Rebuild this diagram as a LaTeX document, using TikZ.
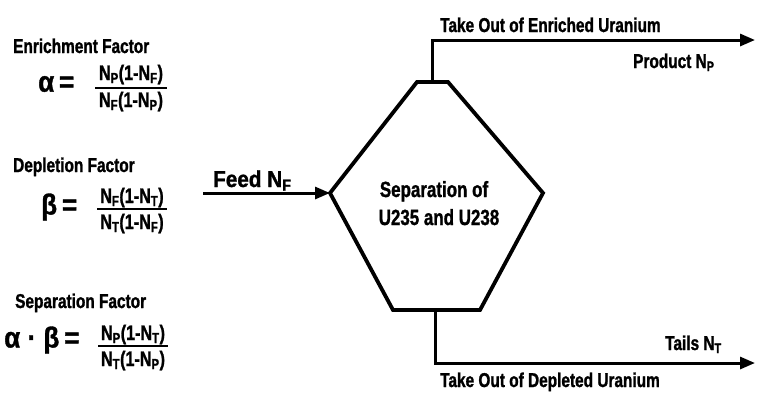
\documentclass[tikz,border=0pt]{standalone}
\usepackage{fontspec}
\setmainfont{Liberation Sans}
\newfontfamily\condA{Liberation Sans}[FakeStretch=0.77, BoldFeatures={FakeBold=1.2}]
\newfontfamily\condB{Liberation Sans}[FakeStretch=0.9, BoldFeatures={FakeBold=1.2}]
\usetikzlibrary{arrows.meta}
\tikzset{
  lbl/.style={font=\condA\bfseries\fontsize{20}{24}\selectfont, inner sep=0pt, anchor=base west},
  big/.style={font=\condA\bfseries\fontsize{22}{26}\selectfont, inner sep=0pt, anchor=base},
  feedlbl/.style={font=\condB\bfseries\fontsize{23}{27}\selectfont, inner sep=0pt, anchor=base west},
  greek/.style={font=\condB\bfseries\fontsize{29}{33}\selectfont, inner sep=0pt, anchor=west},
  frac/.style={font=\condA\bfseries\fontsize{21}{24}\selectfont, inner sep=0pt, anchor=base},
  fbar/.style={line width=2.4pt},
  hexline/.style={line width=3.8pt, line join=miter},
  flow/.style={line width=3pt, -{Triangle[length=15pt,width=12pt]}},
}
\newcommand{\sbs}[1]{\textsubscript{#1}}
\begin{document}
\begin{tikzpicture}[x=1pt,y=-1pt]
\useasboundingbox (0,0) rectangle (757,392);
\fill[white] (0,0) rectangle (757,392);
% hexagon
\coordinate (h1) at (417,82);
\coordinate (h2) at (448,82);
\coordinate (h3) at (543,193);
\coordinate (h4) at (480,310);
\coordinate (h5) at (393,310);
\coordinate (h6) at (330,193);
\draw[hexline] (h1) -- (h2) -- (h3) -- (h4) -- (h5) -- (h6) -- cycle;
\node[big] (sep1) at (434,197) {Separation of};
\node[big] (sep2) at (439,225) {U235 and U238};
% flows
\coordinate (fin) at (203,193);
\draw[flow] (fin) -- (h6);
\node[feedlbl] (feed) at (213,187) {Feed N\sbs{F}};
\coordinate (htop) at (432,82);
\coordinate (pout) at (755,40);
\draw[flow] (htop) |- (pout);
\node[lbl] (enr) at (440,32) {Take Out of Enriched Uranium};
\node[lbl] (prod) at (633,68) {Product N\sbs{P}};
\coordinate (hbot) at (435,310);
\coordinate (tout) at (755,363);
\draw[flow] (hbot) |- (tout);
\node[lbl] (tails) at (665,350) {Tails N\sbs{T}};
\node[lbl] (dep) at (440,387) {Take Out of Depleted Uranium};
% formulas
\node[lbl] (ef) at (13,53) {Enrichment Factor};
\node[greek] (al) at (38,84) {α\,=};
\node[frac] (an) at (131,80) {N\sbs{P}(1-N\sbs{F})};
\coordinate (ab1) at (95,88);
\coordinate (ab2) at (167,88);
\draw[fbar] (ab1) -- (ab2);
\node[frac] (ad) at (131,107) {N\sbs{F}(1-N\sbs{P})};

\node[lbl] (df) at (13,172) {Depletion Factor};
\node[greek] (be) at (41,207) {β\,=};
\node[frac] (bn) at (132,203) {N\sbs{F}(1-N\sbs{T})};
\coordinate (bb1) at (97,209);
\coordinate (bb2) at (167,209);
\draw[fbar] (bb1) -- (bb2);
\node[frac] (bd) at (132,229) {N\sbs{T}(1-N\sbs{F})};

\node[lbl] (sf) at (15,308) {Separation Factor};
\node[greek] (ab) at (4,340) {α · β\,=};
\node[frac] (cn) at (133,340) {N\sbs{P}(1-N\sbs{T})};
\coordinate (cb1) at (98,346);
\coordinate (cb2) at (168,346);
\draw[fbar] (cb1) -- (cb2);
\node[frac] (cd) at (133,366) {N\sbs{T}(1-N\sbs{P})};
\end{tikzpicture}
\end{document}
